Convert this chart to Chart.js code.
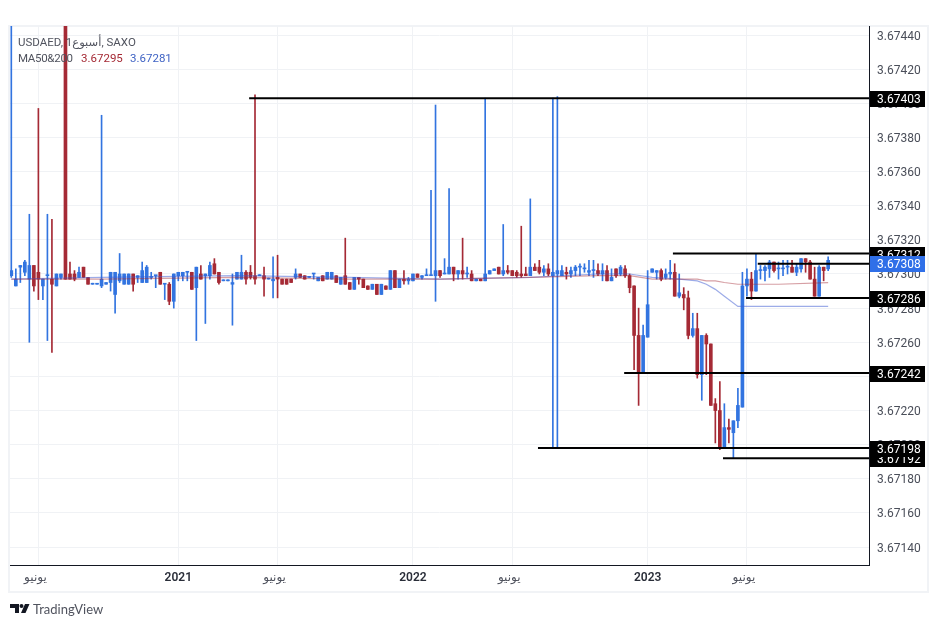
<!DOCTYPE html>
<html>
<head>
<meta charset="utf-8">
<script src="https://cdn.jsdelivr.net/npm/chart.js@4"></script>
<style>
  html, body { margin: 0; background: #fff; }
  #wrap { position: relative; width: 939px; height: 627px; overflow: hidden; font-family: Roboto, "DejaVu Sans", sans-serif; }
  #frame { position: absolute; left: 8px; top: 25px; width: 917px; height: 564px; border: 2px solid #f1f3f6; }
  canvas { position: absolute; left: 0; top: 0; }
  .legend { position: absolute; font-size: 11.5px; color: #50535e; white-space: nowrap; }
  #logo { position: absolute; left: 10px; top: 603px; }
  #brand { position: absolute; left: 33px; top: 601px; font: 13px Lato, sans-serif; color: #50535e; }
</style>
</head>
<body>
<div id="wrap">
  <div id="frame"></div>
  <canvas id="chart" width="939" height="627"></canvas>
  <div class="legend" style="left:18px;top:35px">USDAED, 1أسبوع, SAXO</div>
  <div class="legend" style="left:18px;top:51px;letter-spacing:-0.3px">MA50&amp;200</div>
  <div class="legend" style="left:81px;top:51px;color:#a52a35">3.67295</div>
  <div class="legend" style="left:130px;top:51px;color:#3f63c4">3.67281</div>
  <svg id="logo" width="20" height="12" viewBox="0 0 20 12"><path fill="#131722" d="M0 1h9v9H5V5H0zM11.5 1a2 2 0 1 1 0 4 2 2 0 0 1 0-4zM15 1h4.5l-4 9H11z"/></svg>
  <div id="brand">TradingView</div>
</div>
<script>
const opens = [3.67299,3.67293,3.67304,3.67301,3.67297,3.67305,3.67301,3.67293,3.67299,3.67297,
  3.67293,3.67298,3.67470,3.67300,3.67300,3.67298,3.67304,3.67298,3.67294,3.67294,
  3.67293,3.67294,3.67295,3.67288,3.67296,3.67294,3.67294,3.67300,3.67298,3.67295,
  3.67295,3.67298,3.67299,3.67301,3.67294,3.67294,3.67284,3.67299,3.67299,3.67301,
  3.67301,3.67292,3.67300,3.67299,3.67299,3.67306,3.67301,3.67296,3.67296,3.67294,
  3.67297,3.67297,3.67301,3.67301,3.67299,3.67299,3.67299,3.67297,3.67296,3.67298,
  3.67297,3.67297,3.67297,3.67298,3.67300,3.67299,3.67298,3.67300,3.67296,3.67299,
  3.67297,3.67297,3.67299,3.67294,3.67299,3.67295,3.67291,3.67298,3.67297,3.67293,
  3.67291,3.67294,3.67288,3.67293,3.67291,3.67302,3.67292,3.67297,3.67296,3.67296,
  3.67300,3.67298,3.67299,3.67299,3.67299,3.67302,3.67300,3.67300,3.67304,3.67300,
  3.67302,3.67300,3.67300,3.67296,3.67297,3.67296,3.67300,3.67302,3.67304,3.67300,
  3.67302,3.67302,3.67301,3.67300,3.67300,3.67299,3.67304,3.67304,3.67301,3.67303,
  3.67299,3.67300,3.67299,3.67301,3.67300,3.67302,3.67304,3.67303,3.67301,3.67302,
  3.67302,3.67300,3.67302,3.67296,3.67303,3.67300,3.67303,3.67299,3.67293,3.67264,
  3.67242,3.67263,3.67301,3.67301,3.67302,3.67298,3.67300,3.67301,3.67287,3.67288,
  3.67286,3.67264,3.67268,3.67241,3.67264,3.67259,3.67224,3.67220,3.67198,3.67210,
  3.67207,3.67214,3.67222,3.67293,3.67297,3.67290,3.67302,3.67302,3.67303,3.67307,
  3.67303,3.67303,3.67304,3.67304,3.67301,3.67303,3.67309,3.67307,3.67297,3.67287,
  3.67304,3.67303]
const highs = [3.67460,3.67303,3.67305,3.67308,3.67335,3.67305,3.67397,3.67297,3.67335,3.67332,
  3.67300,3.67300,3.67470,3.67307,3.67302,3.67304,3.67304,3.67298,3.67294,3.67294,
  3.67393,3.67295,3.67301,3.67301,3.67312,3.67300,3.67300,3.67300,3.67299,3.67307,
  3.67305,3.67301,3.67299,3.67301,3.67294,3.67295,3.67300,3.67301,3.67301,3.67301,
  3.67301,3.67304,3.67305,3.67300,3.67307,3.67309,3.67301,3.67296,3.67296,3.67300,
  3.67301,3.67311,3.67302,3.67305,3.67405,3.67299,3.67304,3.67297,3.67310,3.67311,
  3.67297,3.67297,3.67297,3.67303,3.67300,3.67299,3.67298,3.67300,3.67298,3.67299,
  3.67301,3.67301,3.67299,3.67298,3.67321,3.67295,3.67298,3.67298,3.67297,3.67293,
  3.67294,3.67294,3.67294,3.67293,3.67302,3.67302,3.67297,3.67302,3.67298,3.67300,
  3.67300,3.67299,3.67303,3.67349,3.67399,3.67302,3.67309,3.67350,3.67304,3.67302,
  3.67321,3.67304,3.67302,3.67297,3.67297,3.67403,3.67302,3.67303,3.67304,3.67329,
  3.67305,3.67302,3.67302,3.67328,3.67304,3.67344,3.67306,3.67308,3.67305,3.67306,
  3.67403,3.67404,3.67305,3.67304,3.67304,3.67305,3.67306,3.67306,3.67308,3.67308,
  3.67306,3.67306,3.67305,3.67303,3.67303,3.67305,3.67305,3.67300,3.67293,3.67280,
  3.67270,3.67302,3.67303,3.67302,3.67303,3.67303,3.67308,3.67306,3.67300,3.67292,
  3.67290,3.67277,3.67277,3.67264,3.67265,3.67259,3.67227,3.67237,3.67224,3.67215,
  3.67214,3.67233,3.67301,3.67303,3.67301,3.67312,3.67305,3.67305,3.67308,3.67307,
  3.67307,3.67308,3.67308,3.67308,3.67306,3.67309,3.67309,3.67308,3.67304,3.67305,
  3.67304,3.67310]
const lows = [3.67298,3.67293,3.67295,3.67299,3.67260,3.67290,3.67285,3.67285,3.67261,3.67254,
  3.67293,3.67297,3.67297,3.67297,3.67296,3.67298,3.67298,3.67294,3.67294,3.67294,
  3.67292,3.67294,3.67290,3.67277,3.67295,3.67294,3.67294,3.67290,3.67295,3.67295,
  3.67295,3.67297,3.67292,3.67294,3.67285,3.67282,3.67280,3.67296,3.67296,3.67296,
  3.67291,3.67261,3.67297,3.67271,3.67297,3.67300,3.67294,3.67296,3.67296,3.67270,
  3.67297,3.67297,3.67294,3.67297,3.67294,3.67299,3.67287,3.67297,3.67286,3.67286,
  3.67294,3.67294,3.67295,3.67297,3.67298,3.67297,3.67298,3.67297,3.67296,3.67296,
  3.67297,3.67297,3.67295,3.67294,3.67294,3.67291,3.67291,3.67294,3.67292,3.67291,
  3.67291,3.67288,3.67288,3.67291,3.67291,3.67292,3.67292,3.67294,3.67294,3.67296,
  3.67298,3.67297,3.67299,3.67299,3.67284,3.67298,3.67300,3.67300,3.67296,3.67297,
  3.67297,3.67298,3.67296,3.67296,3.67296,3.67296,3.67300,3.67302,3.67300,3.67299,
  3.67300,3.67299,3.67298,3.67298,3.67299,3.67299,3.67302,3.67300,3.67299,3.67299,
  3.67198,3.67198,3.67299,3.67297,3.67298,3.67299,3.67299,3.67301,3.67299,3.67298,
  3.67299,3.67296,3.67296,3.67296,3.67298,3.67299,3.67298,3.67289,3.67244,3.67223,
  3.67242,3.67263,3.67301,3.67297,3.67296,3.67297,3.67297,3.67287,3.67286,3.67279,
  3.67262,3.67263,3.67239,3.67226,3.67241,3.67223,3.67201,3.67197,3.67198,3.67201,
  3.67192,3.67210,3.67222,3.67287,3.67285,3.67290,3.67297,3.67296,3.67298,3.67301,
  3.67297,3.67299,3.67300,3.67301,3.67299,3.67301,3.67301,3.67297,3.67287,3.67287,
  3.67296,3.67302]
const closes = [3.67302,3.67297,3.67305,3.67307,3.67305,3.67293,3.67297,3.67297,3.67299,3.67294,
  3.67300,3.67300,3.67297,3.67297,3.67297,3.67301,3.67298,3.67294,3.67294,3.67294,
  3.67297,3.67295,3.67301,3.67301,3.67300,3.67300,3.67300,3.67294,3.67299,3.67302,
  3.67304,3.67298,3.67299,3.67294,3.67294,3.67284,3.67300,3.67301,3.67301,3.67301,
  3.67291,3.67304,3.67297,3.67300,3.67305,3.67300,3.67295,3.67296,3.67296,3.67295,
  3.67301,3.67301,3.67297,3.67298,3.67297,3.67299,3.67297,3.67297,3.67297,3.67297,
  3.67294,3.67294,3.67295,3.67300,3.67298,3.67297,3.67298,3.67300,3.67298,3.67296,
  3.67301,3.67301,3.67295,3.67298,3.67294,3.67291,3.67298,3.67297,3.67292,3.67291,
  3.67294,3.67288,3.67294,3.67291,3.67302,3.67292,3.67297,3.67296,3.67297,3.67300,
  3.67298,3.67299,3.67299,3.67299,3.67302,3.67299,3.67300,3.67304,3.67300,3.67302,
  3.67300,3.67300,3.67296,3.67297,3.67296,3.67300,3.67302,3.67303,3.67300,3.67302,
  3.67301,3.67299,3.67299,3.67299,3.67299,3.67304,3.67302,3.67301,3.67303,3.67300,
  3.67301,3.67302,3.67302,3.67300,3.67302,3.67304,3.67304,3.67303,3.67302,3.67302,
  3.67300,3.67302,3.67296,3.67298,3.67299,3.67304,3.67299,3.67292,3.67264,3.67242,
  3.67264,3.67282,3.67303,3.67302,3.67297,3.67300,3.67301,3.67287,3.67289,3.67286,
  3.67264,3.67268,3.67241,3.67264,3.67259,3.67223,3.67220,3.67198,3.67210,3.67209,
  3.67214,3.67223,3.67293,3.67297,3.67290,3.67302,3.67302,3.67304,3.67307,3.67302,
  3.67303,3.67303,3.67304,3.67301,3.67304,3.67309,3.67307,3.67297,3.67287,3.67304,
  3.67302,3.67308]

const maBars = [0,20,50,75,95,115,130,137,142,148,152,154,156,158,161,163,170,181]
const ma50 = [3.67297,3.67297,3.67298,3.67297,3.67297,3.67298,3.67299,3.67299,3.67297,3.67297,3.67297,3.67296,3.67296,3.67295,3.67294,3.67294,3.67294,3.67295]
const ma200 = [3.67297,3.67298,3.67299,3.67298,3.67297,3.67298,3.67300,3.67300,3.67298,3.67297,3.67296,3.67294,3.67291,3.67287,3.67281,3.67281,3.67281,3.67281]

// horizontal levels
const levelPrices = [3.67403,3.67312,3.67306,3.67286,3.67242,3.67198,3.67192]
const levelStarts = [52.7,146.6,165.4,162.8,135.8,116.7,157.7]
const levelTexts = ['3.67403','3.67312','3.67308','3.67286','3.67242','3.67198','3.67192']

const xTickBars = [6,37,59,89,111,141,163]
const xTickLabels = ['يونيو\u00a0\u00a0','2021','يونيو\u00a0\u00a0','2022','يونيو\u00a0\u00a0','2023','يونيو\u00a0\u00a0']
const yTicks = [3.6714,3.6716,3.6718,3.672,3.6722,3.6724,3.6726,3.6728,3.673,3.6732,3.6734,3.6736,3.6738,3.674,3.6742,3.6744]

const blue = '#3274e0'
const red = '#a52a35'
const colors = opens.map((o, i) => closes[i] >= o ? blue : red)
const xMax = 190.05

const priceLabels = {
  id: 'priceLabels',
  afterDraw(chart) {
    const c = chart.ctx, y = chart.scales.y
    c.save()
    c.font = '12px Roboto, sans-serif'
    c.textBaseline = 'middle'
    for (let i = levelPrices.length - 1; i >= 0; i--) {
      if (levelTexts[i] === '3.67308') continue
      const py = Math.round(y.getPixelForValue(levelPrices[i])) + 1
      c.fillStyle = '#000'
      c.fillRect(870, py - 8, 55, 16)
      c.fillStyle = '#fff'
      c.fillText(levelTexts[i], 877, py + 1)
    }
    // last price sits over the others
    const py = Math.round(y.getPixelForValue(levelPrices[2]))
    c.fillStyle = '#2f6fe8'
    c.fillRect(870, py - 8, 55, 16)
    c.fillStyle = '#fff'
    c.fillText('3.67308', 877, py + 1)
    c.restore()
  }
}

new Chart(document.getElementById('chart').getContext('2d'), {
  type: 'bar',
  plugins: [priceLabels],
  data: {
    datasets: [
      ...levelPrices.map((p, i) => ({
        type: 'line',
        data: [{ x: levelStarts[i], y: p }, { x: xMax, y: p }],
        borderColor: '#000',
        borderWidth: 2,
        pointRadius: 0,
        order: 0
      })),
      {
        type: 'line',
        data: maBars.map((b, i) => ({ x: b, y: ma50[i] })),
        borderColor: 'rgba(165,42,53,0.45)',
        borderWidth: 1.2,
        pointRadius: 0,
        order: 1
      },
      {
        type: 'line',
        data: maBars.map((b, i) => ({ x: b, y: ma200[i] })),
        borderColor: 'rgba(60,90,210,0.5)',
        borderWidth: 1.2,
        pointRadius: 0,
        order: 1
      },
      {
        data: opens.map((o, i) => ({ x: i, y: [o, closes[i]] })),
        backgroundColor: colors,
        barThickness: 3,
        minBarLength: 1,
        grouped: false,
        order: 2
      },
      {
        data: opens.map((o, i) => ({ x: i, y: [lows[i], highs[i]] })),
        backgroundColor: colors,
        barThickness: 1,
        minBarLength: 1,
        grouped: false,
        order: 3
      }
    ]
  },
  options: {
    responsive: false,
    animation: false,
    layout: { padding: { left: 10, right: 10, top: 26, bottom: 35 } },
    plugins: { legend: { display: false }, tooltip: { enabled: false } },
    scales: {
      x: {
        type: 'linear',
        min: -0.29,
        max: xMax,
        offset: false,
        afterBuildTicks: s => { s.ticks = xTickBars.map(v => ({ value: v })) },
        afterFit: s => { s.height = 27 },
        grid: { color: '#f0f2f5', offset: false, drawTicks: false },
        border: { color: '#131722' },
        ticks: {
          autoSkip: false,
          maxRotation: 0,
          padding: 6,
          color: ctx => /\d/.test(xTickLabels[ctx.index]) ? '#2a2e39' : '#50535e',
          font: ctx => /\d/.test(xTickLabels[ctx.index])
            ? { family: 'Roboto, sans-serif', size: 12, weight: '600' }
            : { family: 'Roboto, "DejaVu Sans", sans-serif', size: 12 },
          callback: (v, i) => xTickLabels[i]
        }
      },
      y: {
        position: 'right',
        min: 3.671295,
        max: 3.674453,
        afterBuildTicks: s => { s.ticks = yTicks.map(v => ({ value: v })) },
        afterFit: s => { s.width = 60 },
        grid: { color: '#f0f2f5', drawTicks: false },
        border: { color: '#131722' },
        ticks: {
          padding: 8,
          labelOffset: 1.5,
          color: '#4a4e59',
          font: { family: 'Roboto, sans-serif', size: 12 },
          callback: v => v.toFixed(5)
        }
      }
    }
  }
})
</script>
</body>
</html>
